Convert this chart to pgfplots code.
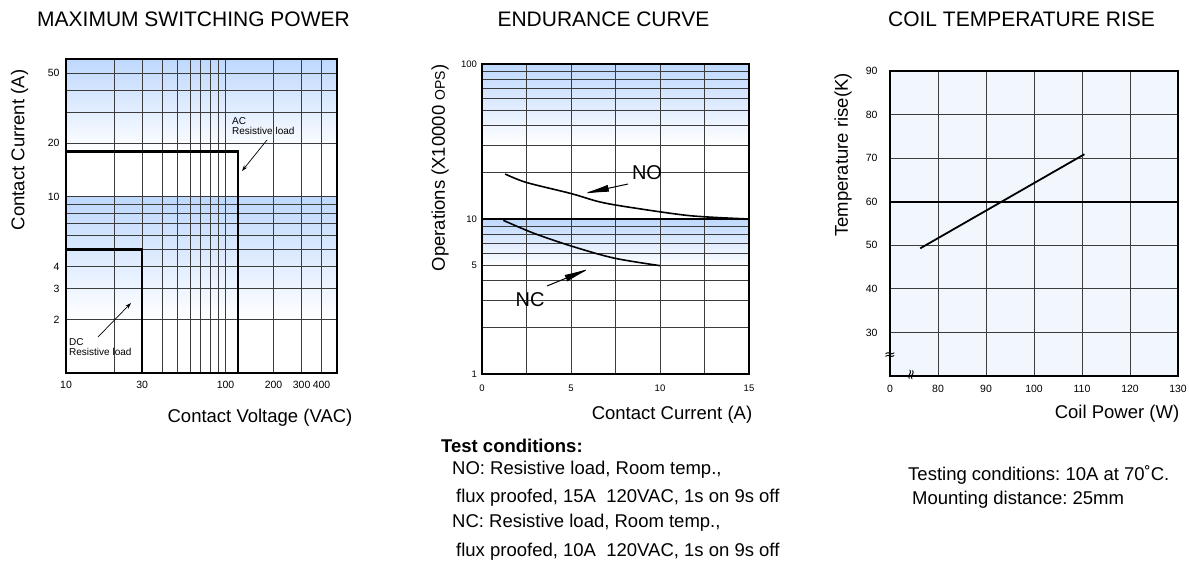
\documentclass[border=0pt]{standalone}
\usepackage{fontspec}
\setmainfont{Liberation Sans}
\newfontfamily\dejavu{DejaVu Sans}
\usepackage{pgfplots}
\pgfplotsset{compat=1.18}
\usetikzlibrary{arrows.meta}

\definecolor{bandblue}{RGB}{190,216,254}
\definecolor{panelblue}{RGB}{242,246,253}
\definecolor{gridgray}{RGB}{60,60,60}

\pgfplotsset{
  relay/.style={
    scale only axis,
    axis line style={black, line width=1.1pt},
    grid=both,
    major grid style={gridgray, line width=0.8pt},
    minor grid style={gridgray, line width=0.8pt},
    tick style={draw=none},
    tick label style={font=\fontsize{10.5}{12}\selectfont},
    /pgf/number format/assume math mode=true,
  },
}

\newcommand\lbl{\fontsize{18.5}{22}\selectfont}
\newcommand\ttl{\fontsize{21}{25}\selectfont}
\frenchspacing

\begin{document}
\begin{tikzpicture}
\useasboundingbox (0pt,0pt) rectangle (1189pt,-562pt);

% shaded bands behind the two left panels (drawn first, grid goes over them)
\begin{scope}[x=1pt, y=1pt]
  \shade[top color=bandblue, bottom color=white] (66,-59) rectangle (337,-151);
  \shade[top color=bandblue, bottom color=white] (66,-197) rectangle (337,-320);
  \shade[top color=bandblue, bottom color=white] (482,-64) rectangle (749,-145);
  \shade[top color=bandblue, bottom color=white] (482,-219) rectangle (749,-266);
\end{scope}

% ---- maximum switching power
\begin{axis}[relay, at={(66pt,-373pt)}, anchor=south west, width=271pt, height=314pt,
  xmode=log, ymode=log, xmin=10, xmax=500, ymin=1, ymax=60,
  xtick={10,30,100,200,300,400}, xticklabels={10,30,100,200,300,400},
  minor xtick={20,40,50,60,70,80,90},
  ytick={2,3,4,10,20,50}, yticklabels={2,3,4,10,20,50},
  minor ytick={5,6,7,8,9,30,40},
  xticklabel style={yshift=-5pt}, yticklabel style={xshift=-3pt}]
  \addplot[black, line width=2.6pt] coordinates {(10,18) (120,18) (120,1)};
  \addplot[black, line width=2.6pt] coordinates {(10,5) (30,5) (30,1)};
\end{axis}

% ---- endurance curve
\begin{axis}[relay, at={(482pt,-374pt)}, anchor=south west, width=267pt, height=310pt,
  ymode=log, xmin=0, xmax=15, ymin=1, ymax=100,
  xtick={0,5,10,15}, minor xtick={2.5,7.5,12.5},
  ytick={1,5,10,100}, yticklabels={1,5,10,100},
  minor ytick={2,3,4,6,7,8,9,20,30,40,50,60,70,80,90},
  tick label style={font=\fontsize{9.5}{11}\selectfont},
  xticklabel style={yshift=-7pt}, yticklabel style={xshift=-1.5pt}]
  \addplot[black, line width=2pt] coordinates {(0,10) (15,10)};
  % NO
  \addplot[black, line width=1.6pt, smooth] coordinates {
    (1.3,19.5) (2.5,17.2) (5,14.6) (6.6,12.9) (8.3,11.9) (11.7,10.5) (15,10)};
  % NC
  \addplot[black, line width=1.6pt, smooth] coordinates {
    (1.2,9.8) (2.9,8.1) (5,6.7) (7.4,5.6) (10,5)};
\end{axis}

% ---- coil temperature rise
\begin{axis}[relay, at={(890pt,-376pt)}, anchor=south west, width=288pt, height=305pt,
  xmin=70, xmax=130, ymin=20, ymax=90,
  xtick={70,80,...,130}, xticklabels={0,80,90,100,110,120,130},
  ytick={20,30,...,90}, yticklabels={,30,40,50,60,70,80,90},
  axis background/.style={fill=panelblue},
  xticklabel style={yshift=-6pt}, yticklabel style={xshift=-9pt}]
  \addplot[black, line width=2pt] coordinates {(70,60) (130,60)};
  \addplot[black, line width=1.8pt] coordinates {(76.3,49.3) (110.5,70.9)};
\end{axis}

\begin{scope}[x=1pt, y=1pt]
  % titles and axis labels
  \node at (193.5,-19) {\ttl MAXIMUM SWITCHING POWER};
  \node[rotate=90] at (19.5,-150) {\lbl Contact Current (A)};
  \node at (260,-418) {\lbl Contact Voltage (VAC)};
  \node at (603.5,-19) {\ttl ENDURANCE CURVE};
  \node[rotate=90] at (440,-168) {\lbl Operations (X10000 {\fontsize{14}{14}\selectfont OPS})};
  \node at (672,-415) {\lbl Contact Current (A)};
  \node at (1021.5,-19) {\ttl COIL TEMPERATURE RISE};
  \node[rotate=90] at (843,-155) {\lbl Temperature rise(K)};
  \node at (1117,-414) {\lbl Coil Power (W)};

  % switching power annotations
  \node[anchor=west, align=left, inner sep=0, font=\fontsize{10}{10.5}\selectfont] at (232,-126) {AC\\Resistive load};
  \draw[-{Stealth[length=6pt,width=4pt]}, line width=0.7pt] (267,-140) -- (242,-171);
  \node[anchor=west, align=left, inner sep=0, font=\fontsize{10}{10.5}\selectfont] at (69,-347) {DC\\Resistive load};
  \draw[-{Stealth[length=6pt,width=4pt]}, line width=0.7pt] (98,-337) -- (131,-303);

  % endurance annotations
  \node at (647,-173) {\fontsize{20}{22}\selectfont NO};
  \node at (530,-300) {\fontsize{20}{22}\selectfont NC};
  \draw[-{Latex[length=27pt,width=7pt]}, line width=1pt] (628,-184) -- (582,-194);
  \draw[-{Latex[length=27pt,width=7pt]}, line width=1pt] (547,-286) -- (591,-268);

  \begin{scope}[every node/.style={anchor=west, inner sep=0}, font=\lbl]
    \node at (441,-446) {\bfseries Test conditions:};
    \node at (452,-470) {NO: Resistive load, Room temp.,};
    \node at (456,-498) {flux proofed, 15A\ \ 120VAC, 1s on 9s off};
    \node at (452,-523) {NC: Resistive load, Room temp.,};
    \node at (456,-552) {flux proofed, 10A\ \ 120VAC, 1s on 9s off};
  \end{scope}

  % temperature rise annotations (axis break marks)
  \node[font=\dejavu\fontsize{14}{14}\selectfont, inner sep=0] at (890,-356) {≈};
  \node[font=\dejavu\fontsize{14}{14}\selectfont, inner sep=0, rotate=80] at (912,-375) {≈};
  \begin{scope}[every node/.style={anchor=west, inner sep=0}, font=\lbl]
    \node at (908,-475) {Testing conditions: 10A at 70˚C.};
    \node at (912,-500) {Mounting distance: 25mm};
  \end{scope}
\end{scope}
\end{tikzpicture}
\end{document}
